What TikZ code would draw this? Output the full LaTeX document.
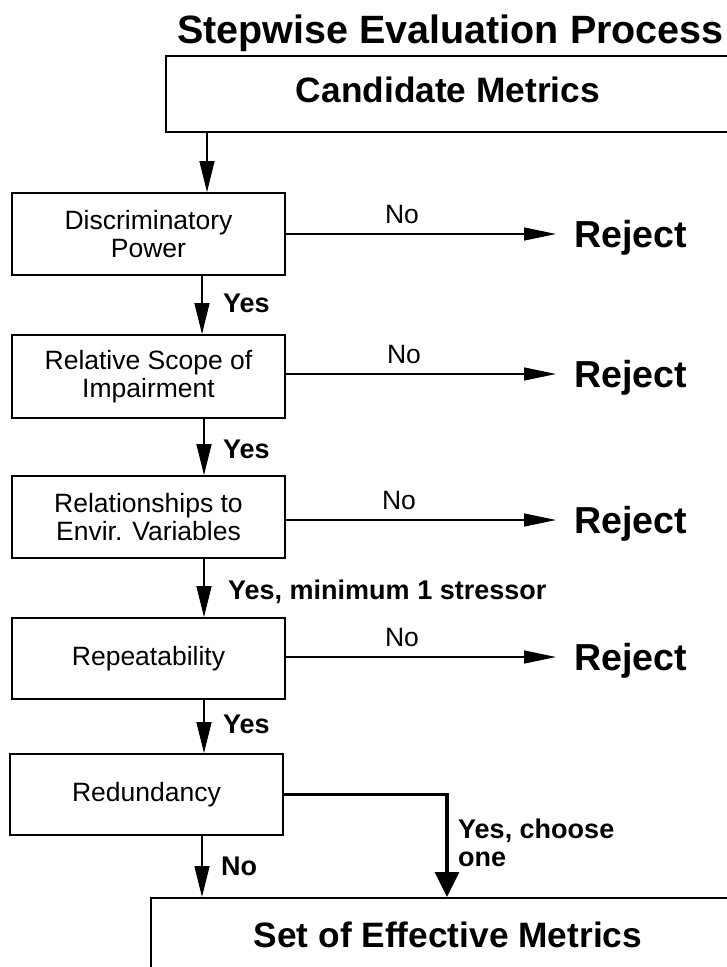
\documentclass[tikz,border=0pt]{standalone}
\usepackage{fontspec}
\setmainfont{Liberation Sans}
\usetikzlibrary{arrows.meta}
\begin{document}
\begin{tikzpicture}[x=1pt,y=-1pt,
  box/.style={draw, line width=1.8pt, minimum width=273pt, inner sep=0pt, align=center, font=\fontsize{26.5}{28.5}\selectfont},
  bigbox/.style={draw, line width=1.8pt, inner sep=0pt, anchor=north west},
  bigtxt/.style={font=\bfseries\fontsize{35.3}{40}\selectfont, inner sep=0pt, anchor=base},
  rejtxt/.style={font=\bfseries\fontsize{37.6}{42}\selectfont, inner sep=0pt, text depth=0pt, anchor=west},
  lab/.style={font=\bfseries\fontsize{27}{28}\selectfont, inner sep=0pt, anchor=base west, align=left},
  nolab/.style={font=\fontsize{26.5}{28}\selectfont, inner sep=0pt, anchor=base},
  varr/.style={line width=1.3pt, -{Triangle[length=31pt,width=15pt]}},
  harr/.style={line width=1.3pt, -{Triangle[length=32pt,width=13pt]}},
  tarr/.style={line width=3.5pt, -{Triangle[length=25pt,width=24pt]}},
]
\useasboundingbox (0,0) rectangle (726,967);
\fill[white] (0,0) rectangle (726,967);

% title
\node[font=\bfseries\fontsize{39.5}{44}\selectfont, inner sep=0pt, anchor=base west] (title) at (177,43) {Stepwise Evaluation Process};

% top and bottom wide boxes
\node[bigbox, minimum width=620pt, minimum height=76pt] (cand) at (165,55) {};
\node[bigtxt] (candtxt) at (448,102) {Candidate Metrics};
\node[bigbox, minimum width=640pt, minimum height=110pt] (set) at (150,897) {};
\node[bigtxt] (settxt) at (448,947) {Set of Effective Metrics};

% step boxes
\node[box, minimum height=82pt] (disc) at (148.5,234) {Discriminatory\\Power};
\node[box, minimum height=83pt] (rel) at (148.5,376.5) {Relative Scope of\\Impairment};
\node[box, minimum height=82pt] (env) at (148.5,517) {Relationships to\\Envir. Variables};
\node[box, minimum height=81pt] (rep) at (148.5,658.5) {Repeatability};
\node[box, minimum height=81pt] (red) at (146.5,794.5) {Redundancy};

% reject nodes
\node[rejtxt] (rej1) at (574,234) {Reject};
\node[rejtxt] (rej2) at (574,374) {Reject};
\node[rejtxt] (rej3) at (574,520) {Reject};
\node[rejtxt] (rej4) at (574,657) {Reject};

% No arrows
\draw[harr] (disc.east |- rej1.west) -- ([xshift=-18pt]rej1.west);
\draw[harr] (rel.east |- rej2.west) -- ([xshift=-18pt]rej2.west);
\draw[harr] (env.east |- rej3.west) -- ([xshift=-18pt]rej3.west);
\draw[harr] (rep.east |- rej4.west) -- ([xshift=-18pt]rej4.west);
\node[nolab] (no1) at (402,223) {No};
\node[nolab] (no2) at (404,363) {No};
\node[nolab] (no3) at (399,509) {No};
\node[nolab] (no4) at (402,646) {No};

% vertical arrows
\draw[varr] ([xshift=58.5pt]disc.north |- cand.south) -- ([xshift=58.5pt]disc.north);
\draw[varr] ([xshift=53.5pt]disc.south) -- ([xshift=53.5pt]disc.south |- rel.north);
\draw[varr] ([xshift=55.5pt]rel.south) -- ([xshift=55.5pt]rel.south |- env.north);
\draw[varr] ([xshift=55.5pt]env.south) -- ([xshift=55.5pt]env.south |- rep.north);
\draw[varr] ([xshift=55.5pt]rep.south) -- ([xshift=55.5pt]rep.south |- red.north);
\draw[varr] ([xshift=55.5pt]red.south) -- ([xshift=55.5pt]red.south |- set.north);
\draw[tarr] (red.east) -| ([xshift=297pt]set.north west);

% yes labels
\node[lab] (yes1) at (223,312) {Yes};
\node[lab] (yes2) at (223,458) {Yes};
\node[lab] (yes3) at (228,599) {Yes, minimum 1 stressor};
\node[lab] (yes4) at (223,733) {Yes};
\node[lab] (nored) at (221,875) {No};
\node[lab] (yesch) at (458,866) {Yes, choose\\one};
\end{tikzpicture}
\end{document}
